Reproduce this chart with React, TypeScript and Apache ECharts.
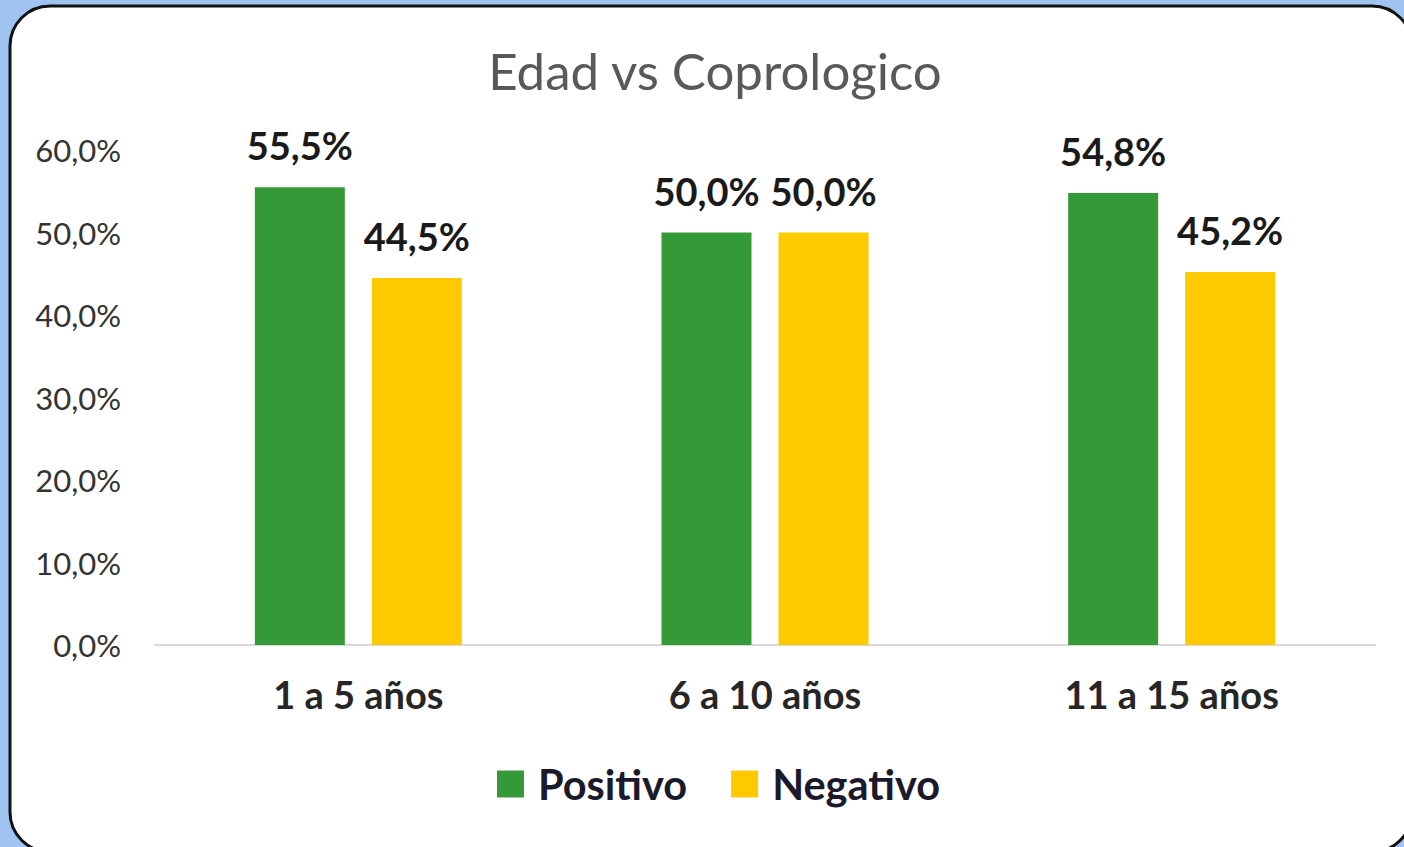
import React, { useEffect, useRef } from "react";
import * as echarts from "echarts";

const categories = ["1 a 5 años", "6 a 10 años", "11 a 15 años"];
const positivo = [55.5, 50.0, 54.8];
const negativo = [44.5, 50.0, 45.2];
const seriesNames = ["Positivo", "Negativo"];
const titleText = "Edad vs Coprologico";

const FONT = "Lato, 'Open Sans', sans-serif";

export default function App() {
  const ref = useRef<HTMLDivElement>(null);
  useEffect(() => {
    if (!ref.current) return;
    const chart = echarts.init(ref.current, undefined, { renderer: "svg" });
    const fmt = (v: number) => v.toFixed(1).replace(".", ",") + "%";
    const labelCfg = {
      show: true,
      position: "top" as const,
      distance: 23,
      formatter: (p: any) => fmt(p.value),
      color: "#1a1a1a",
      fontWeight: "bold" as const,
      fontSize: 38,
      fontFamily: FONT,
    };
    chart.setOption({
      animation: false,
      backgroundColor: "#9fc4f2",
      graphic: [
        {
          type: "rect",
          z: -10,
          silent: true,
          shape: { x: 10, y: 6, width: 1402, height: 846, r: 40 },
          style: { fill: "#ffffff", stroke: "#111111", lineWidth: 3 },
        },
        {
          type: "text",
          x: 715,
          y: 70,
          style: {
            text: titleText,
            fill: "#595959",
            fontSize: 51,
            fontFamily: FONT,
            align: "center",
            verticalAlign: "middle",
          },
        },
      ],
      legend: {
        bottom: 42,
        left: 497,
        padding: 0,
        itemWidth: 27,
        itemHeight: 27,
        itemGap: 44,
        icon: "rect",
        data: seriesNames,
        textStyle: {
          color: "#1a1a2a",
          fontSize: 41.5,
          fontWeight: "bold",
          fontFamily: FONT,
          padding: [0, 0, 0, 9],
        },
      },
      grid: { left: 155, right: 29, top: 150, bottom: 202, containLabel: false },
      xAxis: {
        type: "category",
        data: categories,
        axisLine: { show: true, lineStyle: { color: "#d9d9d9", width: 2 } },
        axisTick: { show: false },
        axisLabel: {
          color: "#262626",
          fontSize: 38,
          fontWeight: "bold",
          fontFamily: FONT,
          margin: 30,
        },
      },
      yAxis: {
        type: "value",
        min: 0,
        max: 60,
        interval: 10,
        splitLine: { show: false },
        axisLine: { show: false },
        axisTick: { show: false },
        axisLabel: {
          color: "#333333",
          fontSize: 31,
          fontFamily: FONT,
          margin: 34,
          formatter: (v: number) => v.toFixed(1).replace(".", ",") + "%",
        },
      },
      series: [
        {
          name: seriesNames[0],
          type: "bar",
          data: positivo,
          barWidth: 90,
          barGap: "30%",
          itemStyle: { color: "#349a37" },
          label: labelCfg,
        },
        {
          name: seriesNames[1],
          type: "bar",
          data: negativo,
          barWidth: 90,
          itemStyle: { color: "#fdca00" },
          label: labelCfg,
        },
      ],
    });
    return () => chart.dispose();
  }, []);
  return (
    <div
      ref={ref}
      style={{ position: "fixed", left: 0, top: 0, width: 1404, height: 847 }}
    />
  );
}
